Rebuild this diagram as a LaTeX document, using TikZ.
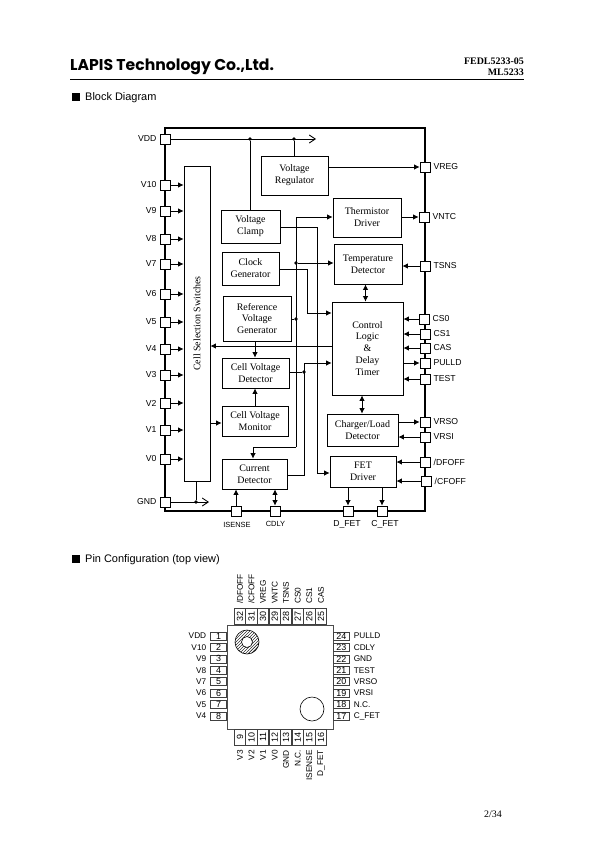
\documentclass[tikz,border=0pt]{standalone}
\usepackage{fontspec}
\setmainfont{Liberation Serif}
\setsansfont{Liberation Sans}
\newfontfamily\logofont{Poppins}
\usetikzlibrary{arrows.meta,patterns}
\tikzset{
  x=1bp,y=-1bp,
  box/.style={draw,line width=0.8pt,fill=white,inner sep=0pt,align=center,font=\fontsize{10}{12}\selectfont},
  pinbox/.style={draw,line width=0.8pt,fill=white,minimum size=10bp,inner sep=0pt},
  wire/.style={line width=0.85pt},
  arr/.style={wire,-{Latex[length=5.5bp,width=5.5bp]}},
  darr/.style={wire,{Latex[length=5.5bp,width=5.5bp]}-{Latex[length=5.5bp,width=5.5bp]}},
  oarr/.style={wire,-{Straight Barb[length=6bp,width=8bp]}},
  junction/.style={circle,fill=black,inner sep=0pt,minimum size=3.6bp},
  plabel/.style={font=\sffamily\fontsize{8.7}{10}\selectfont,inner sep=0pt},
  slabel/.style={font=\sffamily\fontsize{7.5}{8}\selectfont,inner sep=0pt},
  qfnpin/.style={draw=black!75,line width=0.6pt,fill=white,inner sep=0pt,font=\sffamily\fontsize{9}{9}\selectfont},
  qfnlabel/.style={font=\sffamily\fontsize{8.3}{9}\selectfont,inner sep=0pt},
  heading/.style={font=\sffamily\fontsize{11}{13}\selectfont,inner sep=0pt,anchor=west},
}
\newcommand{\bx}[6]{%
  \pgfmathsetmacro\bxcx{(#2+#4)/2}\pgfmathsetmacro\bxcy{(#3+#5)/2}%
  \pgfmathsetmacro\bxw{#4-#2}\pgfmathsetmacro\bxh{#5-#3}%
  \node[box,minimum width=\bxw bp,minimum height=\bxh bp] (#1) at (\bxcx,\bxcy) {#6};}
\begin{document}
\begin{tikzpicture}
\useasboundingbox (0,0) rectangle (595,842);
% header
\node[anchor=west,inner sep=0pt,font=\logofont\bfseries\fontsize{15.7}{16}\selectfont] (logo) at (70,67) {LAPIS Technology Co.,Ltd.};
\coordinate (rulea) at (70,79); \coordinate (ruleb) at (524,79);
\draw[line width=0.9pt] (rulea) -- (ruleb);
\node[anchor=east,inner sep=0pt,font=\bfseries\fontsize{10}{10}\selectfont] (doc) at (524,61) {FEDL5233-05};
\node[anchor=east,inner sep=0pt,font=\bfseries\fontsize{10}{10}\selectfont] (ml) at (524,72) {ML5233};
\node[heading] (hb) at (72,98) {\rule{8bp}{8bp}\hspace{5bp}Block Diagram};
\node[heading] (hp) at (72,560) {\rule{8bp}{8bp}\hspace{5bp}Pin Configuration (top view)};
\node[inner sep=0pt,anchor=east,font=\fontsize{10}{10}\selectfont] (pg) at (502,814) {2/34};
% frame
\draw[line width=2.8pt] (165,128) rectangle (425,511);
% pins
\foreach \n/\x/\y in {vdd/165.5/139,v10/165.5/185,v9/165.5/211,v8/165.5/239,v7/165.5/264,v6/165.5/294,v5/165.5/322,v4/165.5/349,v3/165.5/375,v2/165.5/403,v1/165.5/430,v0/165.5/459,gnd/165.5/502,
  vreg/425/167,vntc/424/217,tsns/425/266,cso/424/319,csi/425/334,cas/425/348,pulld/425/363,test/425/379,vrso/425/422,vrsi/425/437,dfoff/425/462,cfoff/426/481,
  isense/236/511,cdly/275/511,dfet/348/511,cfet/382/511}
  {\node[pinbox] (\n) at (\x,\y) {};}
% pin labels
\foreach \n/\t in {vdd/VDD,v10/V10,v9/V9,v8/V8,v7/V7,v6/V6,v5/V5,v4/V4,v3/V3,v2/V2,v1/V1,v0/V0,gnd/GND}
  {\node[plabel,anchor=east] at ([xshift=-3.5bp]\n.west) {\t};}
\foreach \n/\t in {vreg/VREG,vntc/VNTC,tsns/TSNS,cso/CS0,csi/CS1,cas/CAS,pulld/PULLD,test/TEST,vrso/VRSO,vrsi/VRSI,dfoff/{/DFOFF},cfoff/{/CFOFF}}
  {\node[plabel,anchor=west] at ([xshift=3bp]\n.east) {\t};}
\node[slabel,anchor=north] at ([xshift=1bp,yshift=-6bp]isense.south) {ISENSE};
\node[slabel,anchor=north] at ([xshift=0.5bp,yshift=-5bp]cdly.south) {CDLY};
\node[plabel,anchor=north] at ([xshift=-1bp,yshift=-3.5bp]dfet.south) {D\_FET};
\node[plabel,anchor=north] at ([xshift=3bp,yshift=-3.5bp]cfet.south) {C\_FET};
% blocks
\bx{css}{184}{166}{210}{481}{\rotatebox{90}{Cell Selection Switches}}
\bx{reg}{261}{156}{328}{195}{Voltage\\Regulator}
\bx{clamp}{221}{210}{280}{243}{Voltage\\Clamp}
\bx{clk}{222}{252}{279}{285}{Clock\\Generator}
\bx{ref}{223}{296}{291}{341}{Reference\\Voltage\\Generator}
\bx{cvd}{222}{358}{289}{388}{Cell Voltage\\Detector}
\bx{cvm}{222}{406}{288}{436}{Cell Voltage\\Monitor}
\bx{cur}{222}{459}{287}{489}{Current\\Detector}
\bx{therm}{333}{198}{401}{237}{Thermistor\\Driver}
\bx{temp}{334}{244}{402}{284}{Temperature\\Detector}
\bx{ctl}{332}{302}{403}{395}{Control\\Logic\\\&\\Delay\\Timer}
\bx{chg}{327}{414}{398}{446}{Charger/Load\\Detector}
\bx{fet}{330}{456}{396}{487}{FET\\Driver}
% supply
\coordinate (vddend) at (316,139);
\draw[oarr] (vdd.east) -- (vddend);
\node[junction] (ja) at (250,139) {};
\node[junction] (jb) at (294,139) {};
\draw[wire] (ja) -- (ja |- clamp.north);
\draw[wire] (jb) -- (jb |- reg.north);
\coordinate (gndend) at (209,502);
\draw[oarr] (gnd.east) -- (gndend);
\node[junction] (jc) at (196,502) {};
\draw[wire] (jc) -- (jc |- css.south);
% cell inputs
\foreach \n in {v10,v9,v8,v7,v6,v5,v4,v3,v2,v1,v0}
  {\draw[arr] (\n.east) -- (css.west |- \n);}
% bias bus
\coordinate (busT) at (296,217);
\coordinate (busB) at (296,447);
\coordinate (curin) at (253,447);
\node[junction] (jd) at (296,263) {};
\node[junction] (je) at (296,319) {};
\draw[wire] (ref.east |- je) -- (je);
\draw[arr] (busB) -- (busT) -- (therm.west |- busT);
\draw[wire] (busB) -- (curin);
\draw[arr] (curin) -- (curin |- cur.north);
\draw[arr] (jd) -- (temp.west |- jd);
% clamp to FET
\coordinate (clampc) at (317,227);
\coordinate (clampd) at (317,473);
\draw[wire] (clamp.east |- clampc) -- (clampc) -- (clampd);
\draw[arr] (clampd) -- (fet.west |- clampd);
% clock
\coordinate (clka) at (307,269);
\coordinate (clkb) at (307,313);
\draw[wire] (clk.east |- clka) -- (clka) -- (clkb);
\draw[arr] (clkb) -- (ctl.west |- clkb);
% ref / cvd
\coordinate (rv) at (255,341);
\draw[arr] (rv) -- (rv |- cvd.north);
\coordinate (mv) at (255,406);
\draw[arr] (mv) -- (mv |- cvd.south);
\coordinate (sel) at (210,423);
\draw[arr] (sel) -- (cvm.west |- sel);
\coordinate (ctlb) at (332,346);
\draw[arr] (ctlb) -- (css.east |- ctlb);
% detector bus
\node[junction] (jf) at (304,372) {};
\coordinate (dt) at (304,363);
\coordinate (db) at (304,475);
\draw[wire] (cvd.east |- jf) -- (jf);
\draw[wire] (cur.east |- db) -- (db) -- (dt);
\draw[arr] (dt) -- (ctl.west |- dt);
% bottom
\draw[arr] (isense.north) -- (isense |- cur.south);
\draw[darr] (cdly.north) -- (cdly |- cur.south);
\draw[arr] (fet.south -| dfet) -- (dfet.north);
\draw[arr] (fet.south -| cfet) -- (cfet.north);
% right
\draw[arr] (reg.east |- vreg) -- (vreg.west);
\draw[arr] (therm.east |- vntc) -- (vntc.west);
\draw[arr] (tsns.west) -- (temp.east |- tsns);
\draw[arr] (cso.west) -- (ctl.east |- cso);
\draw[arr] (csi.west) -- (ctl.east |- csi);
\draw[arr] (cas.west) -- (ctl.east |- cas);
\draw[arr] (ctl.east |- pulld) -- (pulld.west);
\draw[arr] (test.west) -- (ctl.east |- test);
\draw[arr] (chg.east |- vrso) -- (vrso.west);
\draw[arr] (vrsi.west) -- (chg.east |- vrsi);
\draw[arr] (dfoff.west) -- (fet.east |- dfoff);
\draw[arr] (cfoff.west) -- (fet.east |- cfoff);
\coordinate (tc) at (365.5,290);
\draw[darr] (tc |- temp.south) -- (tc |- ctl.north);
\coordinate (cc) at (362,400);
\draw[darr] (cc |- ctl.south) -- (cc |- chg.north);
% package
\node[draw=black!70,line width=0.8pt,minimum width=106bp,minimum height=104bp,inner sep=0pt] (pkg) at (280,677) {};
\draw[line width=0.6pt,pattern=north east lines] (247,642) circle (12);
\draw[line width=0.6pt,fill=white] (247,642) circle (5.5);
\draw[line width=0.6pt] (312,709) circle (12);
\foreach \i/\y/\t in {1/636/VDD,2/647.4/V10,3/658.9/V9,4/670.3/V8,5/681.7/V7,6/693.1/V6,7/704.6/V5,8/716/V4}
  {\node[qfnpin,minimum width=16bp,minimum height=8bp,anchor=east] (l\i) at (227,\y) {\i};
   \node[qfnlabel,anchor=east] at ([xshift=-4bp]l\i.west) {\t};}
\foreach \i/\y/\t in {24/636/PULLD,23/647.4/CDLY,22/658.9/GND,21/670.3/TEST,20/681.7/VRSO,19/693.1/VRSI,18/704.6/N.C.,17/716/C\_FET}
  {\node[qfnpin,minimum width=16bp,minimum height=8bp,anchor=west] (r\i) at (333,\y) {\i};
   \node[qfnlabel,anchor=west] at ([xshift=4bp]r\i.east) {\t};}
\foreach \i/\x/\t in {32/240/{/DFOFF},31/251.5/{/CFOFF},30/263/VREG,29/274.7/VNTC,28/286/TSNS,27/297.7/CS0,26/309.3/CS1,25/321/CAS}
  {\node[qfnpin,rotate=90,minimum width=16bp,minimum height=11.5bp,anchor=west] (t\i) at (\x,625) {\i};
   \node[qfnlabel,rotate=90,anchor=west] at (\x,604) {\t};}
\foreach \i/\x/\t in {9/240/V3,10/251.5/V2,11/263/V1,12/274.7/V0,13/286/GND,14/297.7/N.C.,15/309.3/ISENSE,16/321/D\_FET}
  {\node[qfnpin,rotate=90,minimum width=16bp,minimum height=11.5bp,anchor=east] (b\i) at (\x,729) {\i};
   \node[qfnlabel,rotate=90,anchor=east] at (\x,750) {\t};}
\end{tikzpicture}
\end{document}
